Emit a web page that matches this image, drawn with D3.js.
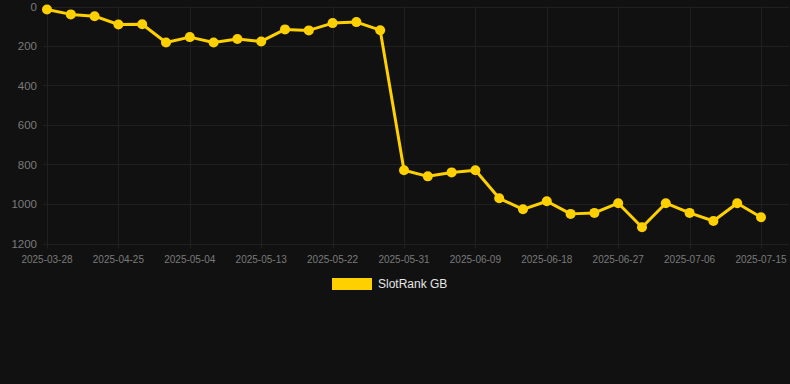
<!DOCTYPE html>
<html>
<head>
<meta charset="utf-8">
<script src="https://cdn.jsdelivr.net/npm/d3@7"></script>
<style>
  html, body { margin: 0; padding: 0; background: #111111; }
  svg { display: block; font-family: Arial, "Liberation Sans", Helvetica, sans-serif; }
</style>
</head>
<body>
<div id="chart"></div>
<script>
const dates = [
  '2025-03-28', '2025-04-19', '2025-04-22', '2025-04-25', '2025-04-28', '2025-05-01',
  '2025-05-04', '2025-05-07', '2025-05-10', '2025-05-13', '2025-05-16', '2025-05-19',
  '2025-05-22', '2025-05-25', '2025-05-28', '2025-05-31', '2025-06-03', '2025-06-06',
  '2025-06-09', '2025-06-12', '2025-06-15', '2025-06-18', '2025-06-21', '2025-06-24',
  '2025-06-27', '2025-06-30', '2025-07-03', '2025-07-06', '2025-07-09', '2025-07-12',
  '2025-07-15'
]
const ranks = [
  15, 40, 49, 91, 90, 182, 155, 182, 165, 177, 116, 121, 84, 79, 120,
  829, 860, 840, 829, 971, 1027, 986, 1050, 1045, 996, 1118, 996, 1045, 1086, 996, 1067
]
const yTicks = [0, 200, 400, 600, 800, 1000, 1200]
const seriesName = 'SlotRank GB'

const width = 790
const height = 384
const plot = { left: 47, right: 789, top: 6.5, bottom: 243.5 }

const svg = d3
  .select('#chart')
  .append('svg')
  .attr('width', width)
  .attr('height', height)

svg.append('rect')
  .attr('width', width)
  .attr('height', height)
  .attr('fill', '#111111')

const x = d3.scalePoint().domain(dates).range([47, 761])
const y = d3.scaleLinear().domain([0, 1200]).range([plot.top, plot.bottom])

// only every third date gets a label, like the original
const shownDates = dates.filter((d, i) => i % 3 === 0)

// horizontal grid
svg.append('g')
  .selectAll('line')
  .data(yTicks)
  .enter()
  .append('line')
  .attr('x1', plot.left - 4)
  .attr('x2', plot.right)
  .attr('y1', d => Math.round(y(d)) + 0.5)
  .attr('y2', d => Math.round(y(d)) + 0.5)
  .attr('stroke', '#202020')
  .attr('stroke-width', 1)

// vertical grid
svg.append('g')
  .selectAll('line')
  .data(shownDates)
  .enter()
  .append('line')
  .attr('x1', d => Math.round(x(d)) + 0.5)
  .attr('x2', d => Math.round(x(d)) + 0.5)
  .attr('y1', plot.top)
  .attr('y2', plot.bottom + 5)
  .attr('stroke', '#202020')
  .attr('stroke-width', 1)

// y labels
svg.append('g')
  .selectAll('text')
  .data(yTicks)
  .enter()
  .append('text')
  .attr('x', 37)
  .attr('y', d => y(d))
  .attr('dy', '0.35em')
  .attr('text-anchor', 'end')
  .attr('font-size', 11.5)
  .attr('fill', '#7a7a7a')
  .text(d => d)

// x labels
svg.append('g')
  .selectAll('text')
  .data(shownDates)
  .enter()
  .append('text')
  .attr('x', d => x(d))
  .attr('y', 263)
  .attr('text-anchor', 'middle')
  .attr('font-size', 10)
  .attr('fill', '#7a7a7a')
  .text(d => d)

const line = d3.line()
  .x((d, i) => x(dates[i]))
  .y(d => y(d))

svg.append('path')
  .datum(ranks)
  .attr('d', line)
  .attr('fill', 'none')
  .attr('stroke', '#FFD000')
  .attr('stroke-width', 3)
  .attr('stroke-linejoin', 'round')

svg.append('g')
  .selectAll('circle')
  .data(ranks)
  .enter()
  .append('circle')
  .attr('cx', (d, i) => x(dates[i]))
  .attr('cy', d => y(d))
  .attr('r', 5)
  .attr('fill', '#FFD000')

// legend
const legend = svg.append('g')
legend.append('rect')
  .attr('x', 332)
  .attr('y', 278)
  .attr('width', 40)
  .attr('height', 12)
  .attr('fill', '#FFD000')
legend.append('text')
  .attr('x', 378)
  .attr('y', 284)
  .attr('dy', '0.35em')
  .attr('font-size', 12)
  .attr('fill', '#e6e6e6')
  .text(seriesName)
</script>
</body>
</html>
